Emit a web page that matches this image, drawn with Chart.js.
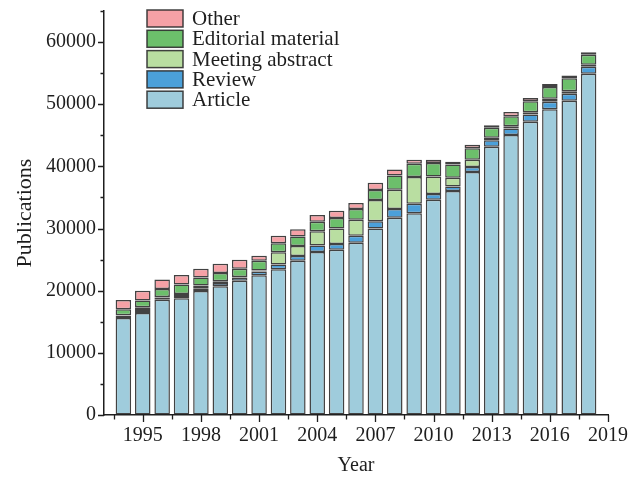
<!DOCTYPE html>
<html>
<head>
<meta charset="utf-8">
<script src="https://cdn.jsdelivr.net/npm/chart.js@4/dist/chart.umd.min.js"></script>
<style>
  html, body { margin: 0; padding: 0; background: #ffffff; }
  #wrap { width: 643px; height: 479px; }
</style>
</head>
<body>
<div id="wrap"><canvas id="chart" width="643" height="479"></canvas></div>
<script>
// Publications per year, split by document type
const years = [1994, 1995, 1996, 1997, 1998, 1999, 2000, 2001, 2002, 2003, 2004, 2005, 2006,
               2007, 2008, 2009, 2010, 2011, 2012, 2013, 2014, 2015, 2016, 2017, 2018];

const article = [15600, 16400, 18540, 18800, 19950, 20700, 21600, 22480, 23450, 24800, 26230, 26600, 27700,
                 30000, 31750, 32450, 34650, 36050, 39100, 43150, 45050, 47200, 49200, 50550, 54900];
const review = [350, 480, 350, 330, 450, 550, 520, 600, 750, 800, 1060, 900, 1130,
                1180, 1400, 1530, 900, 725, 800, 1050, 1050, 1130, 1210, 1130, 1130];
const meetingAbstract = [100, 450, 100, 350, 430, 280, 100, 150, 2000, 1610, 2260, 2520, 2580,
                         3400, 3110, 4300, 2840, 1400, 1180, 390, 370, 370, 480, 420, 320];
const editorialMaterial = [970, 1100, 1290, 1500, 1290, 1300, 1300, 1600, 1450, 1500, 1560, 1680, 1730,
                           1610, 2260, 2150, 2160, 2140, 1820, 1610, 1610, 1770, 1890, 2100, 1610];
const other = [1500, 1550, 1520, 1550, 1400, 1500, 1450, 800, 1180, 1190, 1080, 1180, 970,
               1180, 970, 650, 530, 450, 600, 420, 650, 550, 480, 440, 420];

// Axis ticks: labelled years every 3, unlabelled marks half-way between
const xTicks = [1993.5, 1995, 1996.5, 1998, 1999.5, 2001, 2002.5, 2004, 2005.5, 2007, 2008.5,
                2010, 2011.5, 2013, 2014.5, 2016, 2017.5, 2019];
const yTicks = [0, 5000, 10000, 15000, 20000, 25000, 30000, 35000, 40000, 45000, 50000, 55000, 60000, 65000];

const series = [
  { label: 'Article',            values: article,           color: '#9fccdc' },
  { label: 'Review',             values: review,            color: '#4ba0d9' },
  { label: 'Meeting abstract',   values: meetingAbstract,   color: '#b9dea1' },
  { label: 'Editorial material', values: editorialMaterial, color: '#6cbf6b' },
  { label: 'Other',              values: other,             color: '#f5a1a6' }
];

const EDGE = 'rgba(45,45,45,0.9)';
const INK = '#1e1e1e';
const SERIF = '"Liberation Serif", "Times New Roman", serif';

Chart.defaults.font.family = SERIF;
Chart.defaults.font.size = 20;
Chart.defaults.color = INK;

// Outward tick marks: longer for labelled values
const tickMarks = {
  id: 'tickMarks',
  afterDraw(chart) {
    const { ctx, chartArea, scales } = chart;
    ctx.save();
    ctx.strokeStyle = INK;
    ctx.lineWidth = 1.3;
    ctx.beginPath();
    scales.y.ticks.forEach(t => {
      const y = Math.round(scales.y.getPixelForValue(t.value)) + 0.5;
      const len = t.value % 10000 === 0 ? 6 : 3.5;
      ctx.moveTo(chartArea.left, y);
      ctx.lineTo(chartArea.left - len, y);
    });
    scales.x.ticks.forEach(t => {
      const x = Math.round(scales.x.getPixelForValue(t.value)) + 0.5;
      const len = Number.isInteger(t.value) ? 7 : 4.5;
      ctx.moveTo(x, chartArea.bottom);
      ctx.lineTo(x, chartArea.bottom + len);
    });
    ctx.stroke();
    ctx.restore();
  }
};

// Boxed legend in the upper-left of the plot, top entry = top of stack
const boxLegend = {
  id: 'boxLegend',
  afterDatasetsDraw(chart) {
    const { ctx, chartArea } = chart;
    const items = chart.data.datasets.slice().reverse();
    const bx = chartArea.left + 43;
    ctx.save();
    ctx.font = '21px ' + SERIF;
    ctx.textBaseline = 'middle';
    items.forEach((d, i) => {
      const top = chartArea.top - 1 + i * 20.3;
      ctx.fillStyle = d.backgroundColor;
      ctx.fillRect(bx, top, 36, 17);
      ctx.strokeStyle = EDGE;
      ctx.lineWidth = 1.5;
      ctx.strokeRect(bx, top, 36, 17);
      ctx.fillStyle = INK;
      ctx.fillText(d.label, bx + 45, top + 9.5);
    });
    ctx.restore();
  }
};

new Chart(document.getElementById('chart'), {
  type: 'bar',
  data: {
    datasets: series.map(s => ({
      label: s.label,
      data: years.map((yr, i) => ({ x: yr, y: s.values[i] })),
      backgroundColor: s.color,
      borderColor: EDGE,
      borderWidth: 1.5,
      borderSkipped: false,
      categoryPercentage: 1,
      barPercentage: 0.8
    }))
  },
  options: {
    responsive: false,
    animation: false,
    devicePixelRatio: 1,
    layout: { padding: { top: 11, right: 35, left: 0, bottom: 0 } },
    plugins: {
      legend: { display: false },
      tooltip: { enabled: false }
    },
    scales: {
      x: {
        type: 'linear',
        stacked: true,
        offset: false,
        min: 1993,
        max: 2019,
        afterBuildTicks: s => { s.ticks = xTicks.map(v => ({ value: v })); },
        afterFit: s => { s.height = 64; s.paddingLeft = 0; s.paddingRight = 0; },
        grid: { display: true, drawOnChartArea: false, drawTicks: false, offset: false },
        border: { display: true, color: INK, width: 1.5 },
        ticks: {
          autoSkip: false,
          maxRotation: 0,
          minRotation: 0,
          padding: 9,
          color: INK,
          callback: v => Number.isInteger(v) ? String(v) : ''
        },
        title: { display: true, text: 'Year', color: INK, font: { size: 20 }, padding: { top: 0, bottom: 1 } }
      },
      y: {
        stacked: true,
        min: 0,
        max: 65000,
        afterBuildTicks: s => { s.ticks = yTicks.map(v => ({ value: v })); },
        afterFit: s => { s.width = 104; s.paddingTop = 0; s.paddingBottom = 0; },
        grid: { display: true, drawOnChartArea: false, drawTicks: false },
        border: { display: true, color: INK, width: 1.5 },
        ticks: {
          autoSkip: false,
          padding: 8,
          color: INK,
          callback: v => v % 10000 === 0 ? String(v) : ''
        },
        title: { display: true, text: 'Publications', color: INK, font: { size: 22 }, padding: { top: 12, bottom: 0 } }
      }
    }
  },
  plugins: [tickMarks, boxLegend]
});
</script>
</body>
</html>
